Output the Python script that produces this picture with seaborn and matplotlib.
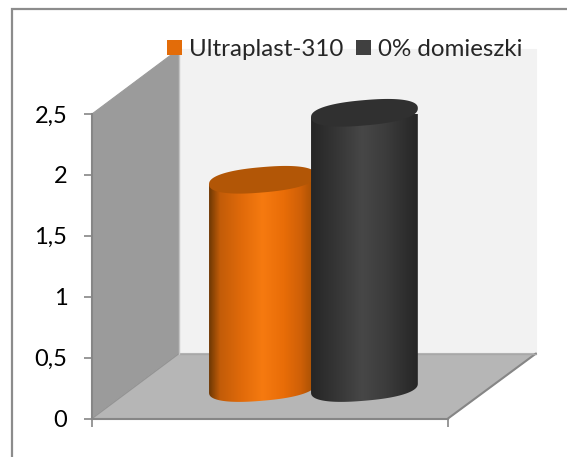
import numpy as np
import pandas as pd
import matplotlib
matplotlib.use("Agg")
import matplotlib.pyplot as plt
from matplotlib.colors import LinearSegmentedColormap
from matplotlib.patches import Polygon, PathPatch, Rectangle
from matplotlib.path import Path
import seaborn as sns

series = ["Ultraplast-310", "0% domieszki"]
values = [1.71, 2.26]
tick_values = [0, 0.5, 1, 1.5, 2, 2.5]
tick_labels = ["0", "0,5", "1", "1,5", "2", "2,5"]

sns.set_theme(style="white")
plt.rcParams["font.family"] = ["Lato", "DejaVu Sans"]

legend_colors = ["#e36c09", "#404040"]
top_colors = ["#b25606", "#303030"]
side_colors = [
    [(0, "#703904"), (0.1, "#c25c08"), (0.3, "#e06a0a"), (0.5, "#f67a10"), (0.7, "#e96d08"), (0.86, "#cf6007"), (1, "#a04e04")],
    [(0, "#262626"), (0.2, "#333333"), (0.48, "#474747"), (0.7, "#3c3c3c"), (1, "#262626")],
]
edge = "#868686"

W, H = 567, 457
fig = plt.figure(figsize=(W / 100, H / 100), dpi=100)
# chart area border, right and bottom sides fall outside the picture
fig.add_artist(Rectangle((12 / W, -0.1), 1.1, 1.1 - 9.5 / H, transform=fig.transFigure,
                         fc="white", ec="#8c8c8c", lw=1.6, zorder=-1))
ax = fig.add_axes([92 / W, 1 - 418.5 / H, 356 / W, 304.5 / H])
ax.patch.set_alpha(0)

df = pd.DataFrame({"group": ["", ""], "series": series, "value": values})

sns.barplot(data=df, x="group", y="value", hue="series", palette=legend_colors, width=0.573,
            gap=-0.047, ax=ax, legend=True, zorder=3)

x0, x1 = -0.622, 0.378
ax.set_xlim(x0, x1)
ax.set_ylim(0, 2.5)
ax.set_xticks([x0, x1])
ax.set_xticklabels(["", ""])
ax.set_yticks(tick_values)
ax.set_yticklabels(tick_labels, fontsize=17, color="black")
ax.set_xlabel("")
ax.set_ylabel("")
ax.tick_params(axis="both", length=5.8, width=1.2, color=edge, left=True, bottom=True, pad=12)
sns.despine(ax=ax)
for s in ["left", "bottom"]:
    ax.spines[s].set_color(edge)
    ax.spines[s].set_linewidth(1.5)

# walls, front plane is the axes box, depth goes up to the right
dx, dy = 87 / 356, 65 / 304.5
right = (536 - 92) / 356
top = 1 + (114 - 49) / 304.5
walls = [
    ([(dx, dy), (right, dy), (right, top), (dx, top)], "#f2f2f2"),
    ([(0, 0), (dx, dy), (dx, top), (0, 1)], "#9b9b9b"),
    ([(0, 0), (1, 0), (right, dy), (dx, dy)], "#b6b6b6"),
]
for pts, fc in walls:
    ax.add_patch(Polygon(pts, closed=True, transform=ax.transAxes, fc=fc, ec=fc, lw=0.8,
                         clip_on=False, zorder=0.5))
ax.plot([1, right], [0, dy], transform=ax.transAxes, color=edge, lw=1.5, clip_on=False, zorder=1)
ax.plot([0, dx], [0, dy], transform=ax.transAxes, color="#949494", lw=1, clip_on=False, zorder=1)
ax.plot([dx, right], [dy, dy], transform=ax.transAxes, color="#a8a8a8", lw=1, clip_on=False, zorder=1)
ax.plot([dx, dx], [dy, top], transform=ax.transAxes, color="#c4c4c4", lw=1, clip_on=False, zorder=1)

# turn each bar into a cylinder standing on the floor
lift = 30.5 / 122
b_h = 12.7 / 122
shear = 4.5 / 122
t = np.linspace(0, 2 * np.pi, 241)
# slightly squarer than a true ellipse, like the original
cos_t = np.sign(np.cos(t)) * np.abs(np.cos(t)) ** 0.85
sin_t = np.sign(np.sin(t)) * np.abs(np.sin(t)) ** 0.85
bars = [p for p in ax.patches if isinstance(p, Rectangle) and p.get_width() > 0]
for i, bar in enumerate(bars[:2]):
    bx, bw = bar.get_x(), bar.get_width()
    y_low = bar.get_y() + lift
    y_top = y_low + bar.get_height()
    a = bw / 2
    ex = bx + a + a * cos_t
    ey = b_h * sin_t + shear * cos_t
    lo = t >= np.pi
    side_x = np.r_[bx, ex[lo], bx + bw]
    side_y = np.r_[y_top - shear, y_low + ey[lo], y_top + shear]
    z = 3 + i
    side_patch = PathPatch(Path(np.c_[side_x, side_y]), transform=ax.transData, fc="none", ec="none")
    ax.add_patch(side_patch)
    cmap = LinearSegmentedColormap.from_list("c%d" % i, side_colors[i])
    img = ax.imshow(np.linspace(0, 1, 200).reshape(1, -1),
                    extent=[bx, bx + bw, y_low - 0.2, y_top + 0.1],
                    cmap=cmap, aspect="auto", zorder=z, interpolation="bilinear")
    img.set_clip_path(side_patch)
    ax.fill(ex, y_top + ey, color=top_colors[i], lw=0, zorder=z + 0.1, clip_on=False)
    bar.set_visible(False)

ax.set_xlim(x0, x1)
ax.set_ylim(0, 2.5)

# legend in the top of the chart
handles, labels = ax.get_legend_handles_labels()
leg = ax.legend(handles, labels, ncol=2, frameon=False, loc="center left", fontsize=17.4,
                bbox_to_anchor=(167 / W, 1 - 49.5 / H), bbox_transform=fig.transFigure,
                handlelength=0.63, handleheight=0.63, handletextpad=0.3, columnspacing=0.5,
                borderpad=0, borderaxespad=0)
leg.set_zorder(10)
for h, c in zip(leg.get_patches(), legend_colors):
    h.set_facecolor(c)
    h.set_edgecolor("none")

fig.savefig("out.png", dpi=100)
